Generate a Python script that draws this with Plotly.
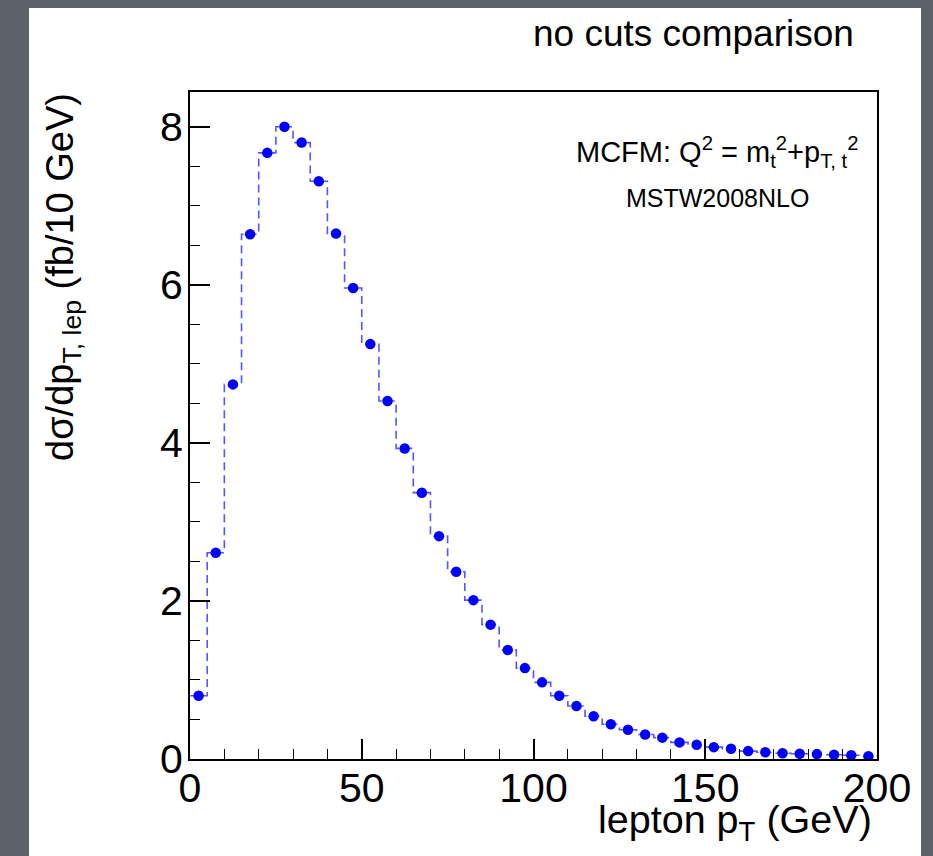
import plotly.graph_objects as go

# bin centres of lepton pT (GeV), 5 GeV bins from 0 to 200
pt_centers = [2.5, 7.5, 12.5, 17.5, 22.5, 27.5, 32.5, 37.5, 42.5, 47.5,
              52.5, 57.5, 62.5, 67.5, 72.5, 77.5, 82.5, 87.5, 92.5, 97.5,
              102.5, 107.5, 112.5, 117.5, 122.5, 127.5, 132.5, 137.5, 142.5, 147.5,
              152.5, 157.5, 162.5, 167.5, 172.5, 177.5, 182.5, 187.5, 192.5, 197.5]
bin_halfwidth = 2.5
# dsigma/dpT (fb/10 GeV)
dsigma = [0.80, 2.61, 4.74, 6.64, 7.67, 8.00, 7.80, 7.31, 6.65, 5.96,
          5.25, 4.53, 3.93, 3.37, 2.82, 2.37, 2.01, 1.70, 1.38, 1.15,
          0.97, 0.80, 0.67, 0.54, 0.44, 0.37, 0.31, 0.27, 0.21, 0.18,
          0.15, 0.13, 0.10, 0.085, 0.072, 0.066, 0.062, 0.054, 0.048, 0.036]

x_ticks = [0, 50, 100, 150, 200]
x_ticklabels = ["0", "50", "100", "150", "200"]
y_ticks = [0, 2, 4, 6, 8]
y_ticklabels = ["0", "2", "4", "6", "8"]

title_text = "no cuts comparison"
xtitle = "lepton p<sub>T</sub> (GeV)"
ytitle = "dσ/dp<sub>T, lep</sub> (fb/10 GeV)"
label1 = "MCFM: Q<sup>2</sup> = m<sub>t</sub><sup>2</sup>+p<sub>T, t</sub><sup>2</sup>"
label2 = "MSTW2008NLO"

FONT = "Liberation Sans, Arial, Helvetica, sans-serif"
GRAY = "rgb(93,97,106)"

# histogram step outline built from the bins
step_x = [c - bin_halfwidth for c in pt_centers] + [pt_centers[-1] + bin_halfwidth]
step_y = dsigma + [dsigma[-1]]

W, H = 933, 856
ml, mr, mt, mb = 190, 56, 92, 97
pw, ph = W - ml - mr, H - mt - mb


def px(xp):
    return (xp - ml) / pw


def py(yp):
    return (H - mb - yp) / ph


fig = go.Figure()
fig.add_trace(go.Scatter(x=step_x, y=step_y, mode="lines", line_shape="hv",
                         line=dict(color="rgb(85,85,255)", width=1.6, dash="8px,5px"),
                         showlegend=False, hoverinfo="skip"))
fig.add_trace(go.Scatter(x=pt_centers, y=dsigma, mode="markers",
                         marker=dict(color="#0000ff", size=10.5),
                         showlegend=False))

fig.update_layout(
    width=W, height=H,
    margin=dict(l=ml, r=mr, t=mt, b=mb, pad=0),
    paper_bgcolor=GRAY,
    plot_bgcolor="white",
    font=dict(family=FONT, color="black"),
    showlegend=False,
    shapes=[dict(type="rect", xref="paper", yref="paper",
                 x0=px(29), x1=px(921), y0=py(860), y1=py(8),
                 fillcolor="white", line=dict(width=0), layer="below")],
)
fig.update_xaxes(range=[0, 200], tickvals=x_ticks, ticktext=x_ticklabels,
                 ticks="inside", ticklen=20, tickwidth=1.5, tickcolor="black",
                 minor=dict(ticks="inside", ticklen=10, dtick=10, tickwidth=1.2, tickcolor="black"),
                 showline=True, linecolor="black", linewidth=2, mirror=True,
                 showgrid=False, zeroline=False,
                 tickfont=dict(size=41, family=FONT), ticklabelstandoff=-8)
fig.update_yaxes(range=[0, 8.44], tickvals=y_ticks, ticktext=y_ticklabels,
                 ticks="inside", ticklen=20, tickwidth=1.5, tickcolor="black",
                 minor=dict(ticks="inside", ticklen=10, dtick=0.5, tickwidth=1.2, tickcolor="black"),
                 showline=True, linecolor="black", linewidth=2, mirror=True,
                 showgrid=False, zeroline=False,
                 tickfont=dict(size=41, family=FONT), ticklabelstandoff=-3)

ann = [
    dict(text=title_text, x=px(856), y=py(33), xanchor="right", yanchor="middle",
         font=dict(size=37)),
    dict(text=xtitle, x=px(874), y=py(822), xanchor="right", yanchor="middle",
         font=dict(size=39.5)),
    dict(text=ytitle, x=px(63), y=py(277), xanchor="center", yanchor="middle",
         textangle=-90, font=dict(size=38)),
    dict(text=label1, x=px(717), y=py(152), xanchor="center", yanchor="middle",
         font=dict(size=29)),
    dict(text=label2, x=px(717), y=py(198), xanchor="center", yanchor="middle",
         font=dict(size=25)),
]
for a in ann:
    a.update(xref="paper", yref="paper", showarrow=False)
fig.update_layout(annotations=ann)

fig.write_html("out.html",
               config={"displayModeBar": False},
               post_script="document.body.style.margin='0px';"
                           "document.body.style.background='" + GRAY + "';")
